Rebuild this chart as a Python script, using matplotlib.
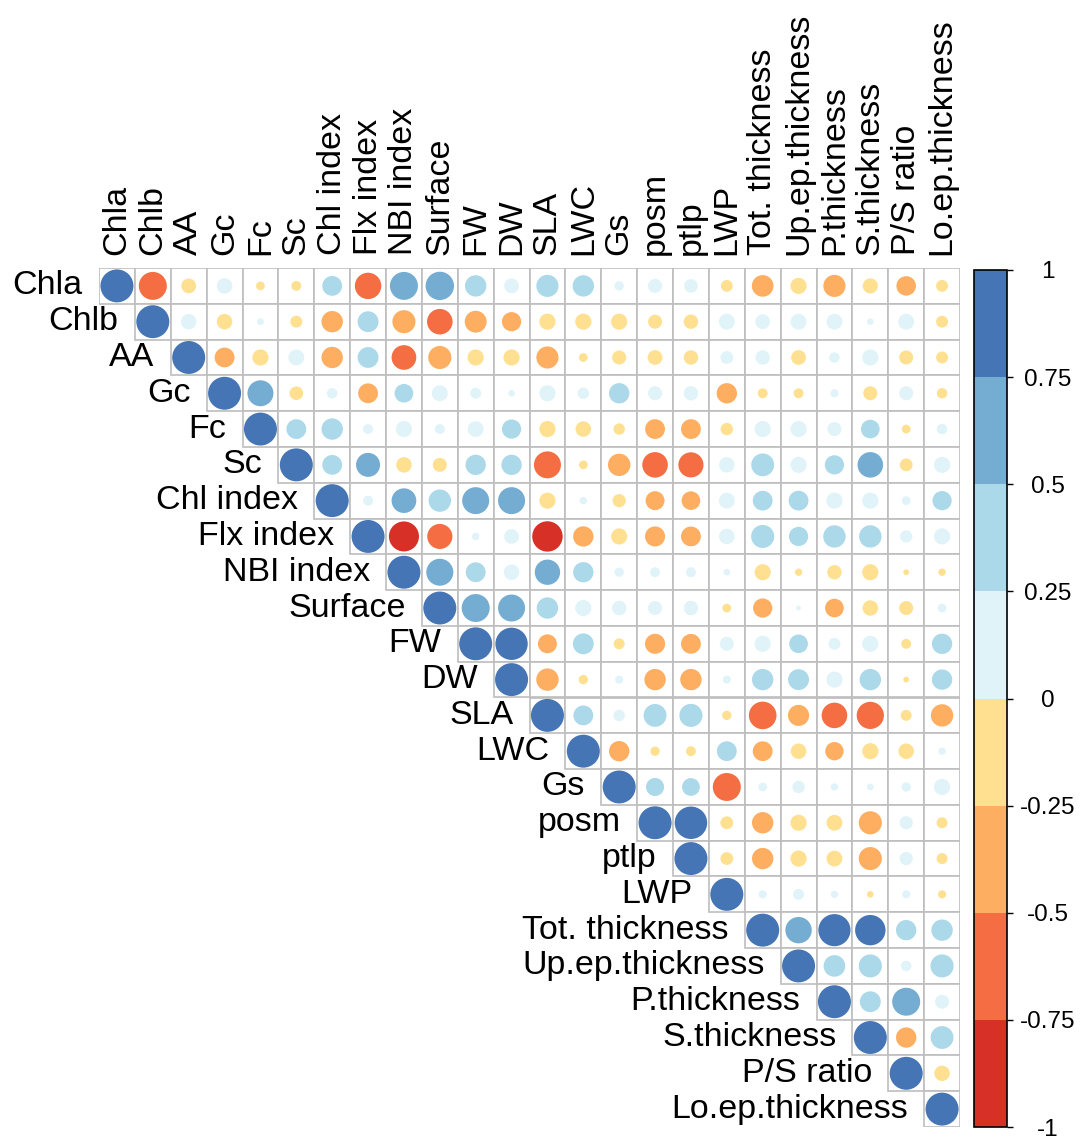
import numpy as np
import matplotlib
matplotlib.use("Agg")
import matplotlib.pyplot as plt
from matplotlib.colors import ListedColormap, BoundaryNorm
from matplotlib.patches import Circle, Rectangle
from matplotlib.cm import ScalarMappable

plt.rcParams['font.family'] = ['Liberation Sans', 'DejaVu Sans']

labels = ["Chla", "Chlb", "AA", "Gc", "Fc", "Sc", "Chl index", "Flx index", "NBI index",
          "Surface", "FW", "DW", "SLA", "LWC", "Gs", "posm", "ptlp", "LWP",
          "Tot. thickness", "Up.ep.thickness", "P.thickness", "S.thickness",
          "P/S ratio", "Lo.ep.thickness"]

# upper triangle, one list per row (values right of the diagonal)
r_Chla = [-0.72, -0.2, 0.22, -0.07, -0.09, 0.36, -0.64, 0.72, 0.74, 0.42, 0.2,
          0.45, 0.42, 0.08, 0.18, 0.17, -0.13, -0.43, -0.24, -0.45, -0.21, -0.35, -0.13]
r_Chlb = [0.22, -0.22, 0.04, -0.13, -0.42, 0.4, -0.49, -0.6, -0.44, -0.34,
          -0.24, -0.24, -0.24, -0.18, -0.19, 0.23, 0.2, 0.23, 0.23, 0.04, 0.23, -0.13]
r_AA = [-0.36, -0.24, 0.23, -0.42, 0.4, -0.56, -0.49, -0.24, -0.24,
        -0.45, -0.07, -0.18, -0.2, -0.19, 0.15, 0.19, -0.2, 0.1, 0.24, -0.18, -0.13]
r_Gc = [0.62, -0.17, 0.1, -0.36, 0.32, 0.23, 0.11, 0.04,
        0.24, 0.12, 0.38, 0.18, 0.19, -0.38, -0.09, -0.09, 0.06, -0.18, 0.18, -0.1]
r_Fc = [0.36, 0.42, 0.09, 0.24, 0.09, 0.23, 0.34,
        -0.24, -0.22, -0.12, -0.36, -0.36, -0.14, 0.24, 0.24, 0.18, 0.32, -0.07, 0.1]
r_Sc = [0.36, 0.53, -0.22, -0.18, 0.38, 0.38,
        -0.67, -0.07, -0.46, -0.6, -0.58, 0.22, 0.48, 0.24, 0.34, 0.6, -0.15, 0.24]
r_Chl_index = [0.09, 0.56, 0.46, 0.67, 0.67, -0.24, 0.05, -0.16,
               -0.33, -0.32, 0.23, 0.36, 0.36, 0.24, 0.24, 0.07, 0.34]
r_Flx_index = [-0.83, -0.58, 0.05, 0.2, -0.85, -0.38, -0.24,
               -0.37, -0.36, 0.22, 0.49, 0.34, 0.46, 0.46, 0.14, 0.24]
r_NBI_index = [0.67, 0.36, 0.22, 0.59, 0.38, 0.08,
               0.09, 0.09, 0.04, -0.24, -0.05, -0.19, -0.24, -0.03, -0.05]
r_Surface = [0.72, 0.67, 0.42, 0.24, 0.19,
             0.18, 0.19, -0.07, -0.34, 0.02, -0.32, -0.22, -0.18, 0.07]
r_FW = [0.96, -0.33, 0.4, -0.11,
        -0.37, -0.36, 0.18, 0.24, 0.32, 0.13, 0.24, -0.09, 0.38]
r_DW = [-0.46, -0.08, 0.06,
        -0.42, -0.42, 0.06, 0.42, 0.4, 0.24, 0.42, -0.03, 0.38]
r_SLA = [0.36, 0.12, 0.48, 0.49, -0.08, -0.7, -0.41, -0.6, -0.68, -0.11, -0.46]
r_LWC = [-0.38, -0.08, -0.09, 0.36, -0.36, -0.22, -0.31, -0.24, -0.22, 0.05]
r_Gs = [0.3, 0.29, -0.72, 0.07, 0.14, 0.05, 0.04, 0.08, 0.24]
r_posm = [0.97, -0.15, -0.42, -0.24, -0.23, -0.49, 0.16, -0.11]
r_ptlp = [-0.15, -0.42, -0.24, -0.23, -0.49, 0.16, -0.11]
r_LWP = [0.06, 0.11, 0.05, -0.04, 0.06, -0.06]
r_Tot = [0.64, 0.95, 0.85, 0.38, 0.42]
r_Up = [0.43, 0.49, 0.1, 0.49]
r_P = [0.4, 0.72, 0.18]
r_S = [-0.38, 0.48]
r_PS = [-0.22]

rows = [r_Chla, r_Chlb, r_AA, r_Gc, r_Fc, r_Sc, r_Chl_index, r_Flx_index, r_NBI_index,
        r_Surface, r_FW, r_DW, r_SLA, r_LWC, r_Gs, r_posm, r_ptlp, r_LWP,
        r_Tot, r_Up, r_P, r_S, r_PS, []]

n = len(labels)
corr = np.eye(n)
for i, row in enumerate(rows):
    for k, v in enumerate(row):
        corr[i, i + 1 + k] = v
        corr[i + 1 + k, i] = v

colors = ["#D73027", "#F46D43", "#FDAE61", "#FEE090", "#E0F3F8", "#ABD9E9", "#74ADD1", "#4575B4"]
bounds = np.linspace(-1, 1, 9)
cmap = ListedColormap(colors)
norm = BoundaryNorm(bounds, cmap.N)

fig = plt.figure(figsize=(10.9, 11.41), dpi=100)
ax = fig.add_axes([99 / 1090, 14 / 1141, 861 / 1090, 859 / 1141])
ax.set_xlim(0, n)
ax.set_ylim(n, 0)
ax.axis("off")

for i in range(n):
    for j in range(i, n):
        ax.add_patch(Rectangle((j, i), 1, 1, facecolor="white", edgecolor="#BEBEBE", lw=1.2))
for i in range(n):
    for j in range(i, n):
        r = corr[i, j]
        ax.add_patch(Circle((j + 0.5, i + 0.5), 0.46 * np.sqrt(abs(r)),
                            facecolor=cmap(norm(r)), edgecolor="none"))

# column labels on top, row labels next to the diagonal
for j, name in enumerate(labels):
    ax.text(j + 0.5, -0.35, name, rotation=90, ha="center", va="bottom",
            fontsize=24.5, clip_on=False)
for i, name in enumerate(labels):
    ax.text(i - 0.45, i + 0.5, name, ha="right", va="center",
            fontsize=24.5, clip_on=False)

# colour legend
cax = fig.add_axes([974 / 1090, 14 / 1141, 33 / 1090, 857 / 1141])
cb = fig.colorbar(ScalarMappable(norm=norm, cmap=cmap), cax=cax, ticks=bounds)
cb.outline.set_linewidth(1.2)
cb.ax.set_yticklabels(["-1", "-0.75", "-0.5", "-0.25", "0", "0.25", "0.5", "0.75", "1"])
cb.ax.tick_params(length=4.5, width=1, labelsize=17.5, pad=25)
for t in cb.ax.get_yticklabels():
    t.set_ha("center")

fig.savefig("out.png", dpi=100)
